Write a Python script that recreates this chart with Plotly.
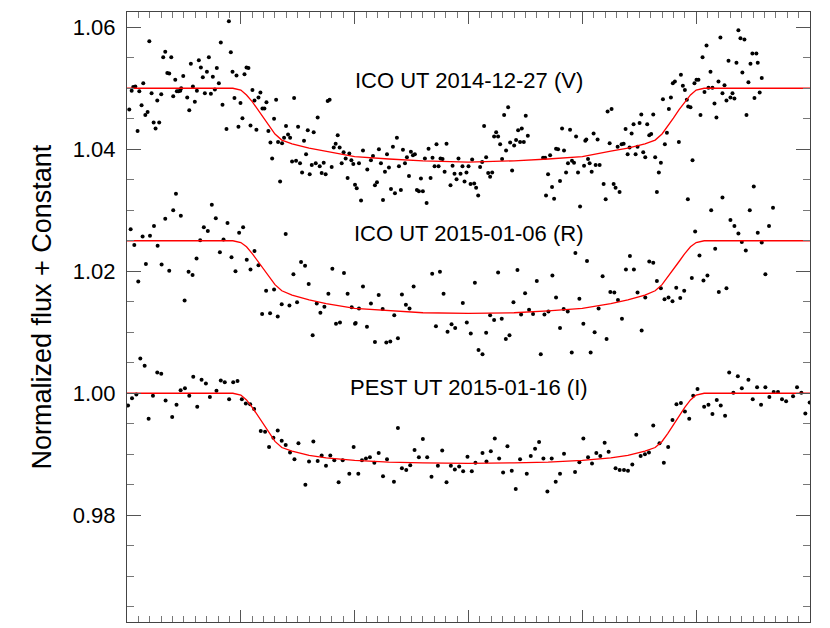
import plotly.graph_objects as go

# hours from mid-transit / normalized flux (+ offset) for the three nights
v_time = [-2.980,-2.959,-2.945,-2.927,-2.907,-2.892,-2.872,-2.857,-2.839,-2.819,
          -2.804,-2.784,-2.766,-2.749,-2.734,-2.717,-2.699,-2.682,-2.664,-2.646,
          -2.629,-2.611,-2.594,-2.576,-2.562,-2.547,-2.532,-2.524,-2.506,-2.471,
          -2.453,-2.439,-2.421,-2.404,-2.386,-2.369,-2.351,-2.334,-2.316,-2.298,
          -2.281,-2.263,-2.246,-2.228,-2.211,-2.193,-2.176,-2.161,-2.126,-2.105,
          -2.088,-2.073,-2.056,-2.038,-2.021,-2.003,-1.986,-1.968,-1.950,-1.933,
          -1.915,-1.898,-1.880,-1.863,-1.845,-1.828,-1.810,-1.793,-1.775,-1.758,
          -1.740,-1.725,-1.708,-1.690,-1.673,-1.655,-1.638,-1.620,-1.603,-1.585,
          -1.567,-1.550,-1.532,-1.515,-1.497,-1.480,-1.462,-1.445,-1.427,-1.412,
          -1.395,-1.377,-1.360,-1.342,-1.325,-1.307,-1.290,-1.272,-1.255,-1.237,
          -1.220,-1.202,-1.184,-1.167,-1.149,-1.132,-1.114,-1.097,-1.079,-1.062,
          -1.047,-1.029,-1.012,-0.997,
          -0.982,-0.962,-0.944,-0.927,-0.889,-0.857,-0.839,-0.822,-0.804,-0.787,
          -0.769,-0.751,-0.734,-0.716,-0.699,-0.681,-0.664,-0.646,-0.629,-0.611,
          -0.594,-0.576,-0.558,-0.541,-0.523,-0.506,-0.488,-0.471,-0.453,-0.436,
          -0.418,-0.401,-0.383,-0.368,-0.351,-0.333,-0.316,-0.298,-0.281,-0.263,
          -0.246,-0.228,-0.210,-0.193,-0.158,-0.140,-0.123,-0.105,-0.088,-0.070,
          -0.053,-0.035,-0.018,0.000,0.018,0.032,0.050,0.067,0.085,0.102,
          0.120,0.137,0.155,0.173,0.190,0.208,0.225,0.243,0.260,0.278,
          0.295,0.313,0.330,0.348,0.366,0.383,0.401,0.418,0.436,0.453,
          0.468,0.486,0.503,0.521,0.655,0.673,0.681,0.699,0.717,0.734,
          0.752,0.769,0.787,0.804,0.822,0.839,0.857,0.874,0.892,0.909,
          0.927,0.945,0.962,0.980,1.015,1.026,
          1.035,1.050,1.064,1.082,1.099,1.117,1.134,1.152,1.187,1.205,
          1.222,1.240,1.257,1.275,1.292,1.310,1.327,1.345,1.363,1.380,
          1.398,1.415,1.433,1.450,1.468,1.485,1.503,1.518,1.535,1.553,
          1.570,1.588,1.605,1.623,1.640,1.655,1.672,1.690,1.708,1.725,
          1.743,1.760,1.778,1.795,1.813,1.848,1.866,1.883,1.901,1.918,
          1.930,1.950,1.968,1.985,2.003,2.020,2.038,2.056,2.073,2.091,
          2.108,2.126,2.143,2.161,2.178,2.196,2.213,2.231,2.249,2.266,
          2.284,2.301,2.319,2.336,2.354,2.371,2.389,2.406,2.424,2.442,
          2.459,2.477,2.494,2.512,2.529,2.541,2.558,2.576]
v_flux = [1.0465,1.0496,1.0502,1.0503,1.0430,1.0495,1.0472,1.0508,1.0456,1.0461,
          1.0577,1.0492,1.0444,1.0434,1.0480,1.0444,1.0490,1.0551,1.0560,1.0525,
          1.0524,1.0551,1.0487,1.0514,1.0495,1.0495,1.0496,1.0500,1.0520,1.0485,
          1.0464,1.0540,1.0503,1.0478,1.0496,1.0546,1.0534,1.0518,1.0492,1.0527,
          1.0551,1.0491,1.0519,1.0498,1.0533,1.0508,1.0575,1.0473,1.0433,1.0610,
          1.0559,1.0527,1.0484,1.0521,1.0437,1.0476,1.0451,1.0523,1.0534,1.0533,
          1.0439,1.0497,1.0480,1.0432,1.0485,1.0493,1.0467,1.0467,1.0477,1.0430,
          1.0411,1.0385,1.0450,1.0481,1.0412,1.0347,1.0410,1.0419,1.0438,1.0424,
          1.0419,1.0380,1.0484,1.0381,1.0437,1.0377,1.0362,1.0414,1.0392,1.0431,
          1.0359,1.0374,1.0428,1.0377,1.0452,1.0372,1.0361,1.0378,1.0359,1.0479,
          1.0481,1.0371,1.0403,1.0409,1.0423,1.0403,1.0377,1.0395,1.0385,1.0353,
          1.0393,1.0382,1.0376,1.0342,
          1.0336,1.0377,1.0316,1.0398,1.0367,1.0382,1.0389,1.0341,1.0346,1.0400,
          1.0377,1.0317,1.0363,1.0392,1.0370,1.0335,1.0404,1.0328,1.0419,1.0372,
          1.0333,1.0399,1.0377,1.0387,1.0356,1.0396,1.0390,1.0392,1.0333,1.0331,
          1.0352,1.0331,1.0385,1.0312,1.0401,1.0353,1.0386,1.0372,1.0408,1.0372,
          1.0385,1.0384,1.0363,1.0409,1.0341,1.0373,1.0360,1.0351,1.0385,1.0360,
          1.0372,1.0347,1.0362,1.0372,1.0343,1.0383,1.0344,1.0337,1.0324,1.0371,
          1.0379,1.0438,1.0387,1.0361,1.0355,1.0362,1.0421,1.0428,1.0421,1.0408,
          1.0384,1.0456,1.0398,1.0469,1.0411,1.0365,1.0406,1.0415,1.0431,1.0412,
          1.0434,1.0412,1.0455,1.0422,1.0386,1.0386,1.0324,1.0359,1.0390,1.0338,
          1.0319,1.0401,1.0400,1.0348,1.0434,1.0398,1.0362,1.0377,1.0432,1.0381,
          1.0378,1.0421,1.0362,1.0306,1.0373,1.0414,
          1.0416,1.0384,1.0377,1.0363,1.0426,1.0374,1.0416,1.0374,1.0343,1.0318,
          1.0462,1.0410,1.0466,1.0343,1.0337,1.0404,1.0330,1.0408,1.0409,1.0433,
          1.0392,1.0403,1.0426,1.0441,1.0392,1.0404,1.0443,1.0457,1.0395,1.0387,
          1.0441,1.0423,1.0425,1.0457,1.0387,1.0330,1.0362,1.0378,1.0482,1.0408,
          1.0427,1.0466,1.0485,1.0508,1.0511,1.0412,1.0522,1.0504,1.0497,1.0481,
          1.0470,1.0469,1.0382,1.0508,1.0514,1.0514,1.0456,1.0551,1.0494,1.0570,
          1.0501,1.0527,1.0501,1.0475,1.0452,1.0511,1.0583,1.0492,1.0505,1.0480,
          1.0545,1.0485,1.0492,1.0483,1.0542,1.0595,1.0582,1.0526,1.0580,1.0456,
          1.0510,1.0540,1.0557,1.0484,1.0557,1.0542,1.0493,1.0517]

r_time = [-2.968,-2.936,-2.901,-2.863,-2.834,-2.798,-2.763,-2.731,-2.696,-2.664,
          -2.629,-2.594,-2.570,-2.527,-2.494,-2.459,-2.424,-2.389,-2.357,-2.325,
          -2.290,-2.255,-2.220,-2.184,-2.152,-2.117,-2.082,-2.047,-2.015,-1.980,
          -1.948,-1.915,-1.880,-1.845,-1.813,-1.778,-1.743,-1.708,-1.676,-1.641,
          -1.606,-1.573,-1.538,-1.506,-1.471,-1.436,-1.404,-1.369,-1.333,-1.301,
          -1.266,-1.231,-1.196,-1.164,-1.129,-1.094,-1.062,-1.026,-0.997,
          -0.991,-0.962,-0.927,-0.892,-0.857,-0.822,-0.789,-0.754,-0.722,-0.687,
          -0.652,-0.620,-0.585,-0.550,-0.518,-0.482,-0.319,-0.286,-0.251,-0.219,
          -0.184,-0.149,-0.117,-0.050,-0.015,0.020,0.056,0.088,0.123,0.155,
          0.190,0.225,0.260,0.292,0.328,0.360,0.395,0.430,0.462,0.497,
          0.532,0.567,0.600,0.635,0.667,0.702,0.737,0.769,0.804,0.836,
          0.872,0.907,0.939,0.974,1.009,
          1.041,1.073,1.108,1.143,1.178,1.213,1.246,1.281,1.313,1.348,
          1.383,1.418,1.453,1.485,1.521,1.553,1.588,1.623,1.655,1.690,
          1.722,1.757,1.792,1.825,1.860,1.895,1.927,1.962,1.991,2.029,
          2.064,2.099,2.132,2.167,2.199,2.231,2.266,2.301,2.336,2.371,
          2.401,2.436,2.471,2.506,2.541,2.576,2.608,2.640,2.675]
r_flux = [1.0269,1.0243,1.0183,1.0257,1.0212,1.0258,1.0274,1.0242,1.0211,1.0286,
          1.0201,1.0300,1.0327,1.0291,1.0152,1.0199,1.0194,1.0221,1.0251,1.0272,
          1.0266,1.0309,1.0287,1.0231,1.0252,1.0279,1.0223,1.0200,1.0263,1.0272,
          1.0219,1.0203,1.0233,1.0210,1.0130,1.0168,1.0131,1.0170,1.0126,1.0146,
          1.0261,1.0144,1.0195,1.0149,1.0215,1.0209,1.0179,1.0095,1.0147,1.0132,
          1.0142,1.0163,1.0204,1.0114,1.0116,1.0197,1.0163,1.0141,1.0114,
          1.0115,1.0139,1.0175,1.0109,1.0147,1.0084,1.0161,1.0138,1.0083,1.0085,
          1.0128,1.0090,1.0162,1.0145,1.0139,1.0175,1.0196,1.0110,1.0199,1.0163,
          1.0101,1.0113,1.0107,1.0148,1.0116,1.0098,1.0181,1.0071,1.0064,1.0099,
          1.0128,1.0120,1.0198,1.0122,1.0089,1.0095,1.0149,1.0202,1.0129,1.0164,
          1.0137,1.0130,1.0184,1.0064,1.0129,1.0134,1.0193,1.0157,1.0107,1.0138,
          1.0134,1.0067,1.0230,1.0155,1.0114,
          1.0217,1.0067,1.0100,1.0139,1.0192,1.0089,1.0166,1.0165,1.0153,1.0122,
          1.0203,1.0225,1.0203,1.0165,1.0103,1.0157,1.0216,1.0214,1.0184,1.0172,
          1.0154,1.0157,1.0151,1.0173,1.0156,1.0168,1.0318,1.0189,1.0265,1.0226,
          1.0185,1.0193,1.0300,1.0237,1.0166,1.0321,1.0172,1.0284,1.0274,1.0262,
          1.0248,1.0234,1.0300,1.0339,1.0263,1.0247,1.0195,1.0274,1.0304]

i_time = [-2.991,-2.956,-2.918,-2.883,-2.845,-2.810,-2.772,-2.734,-2.699,-2.661,
          -2.603,-2.565,-2.529,-2.491,-2.453,-2.418,-2.383,-2.345,-2.307,-2.272,
          -2.214,-2.176,-2.141,-2.103,-2.067,-2.029,-1.991,-1.956,-1.918,-1.883,
          -1.825,-1.787,-1.752,-1.714,-1.676,-1.641,-1.606,-1.568,-1.529,-1.494,
          -1.433,-1.401,-1.363,-1.325,-1.290,-1.252,-1.214,-1.179,-1.141,-1.105,
          -1.047,-1.009,
          -0.968,-0.936,-0.901,-0.866,-0.827,-0.789,-0.751,-0.716,-0.655,-0.620,
          -0.585,-0.547,-0.512,-0.474,-0.436,-0.401,-0.363,-0.325,-0.269,-0.231,
          -0.193,-0.155,-0.120,-0.082,-0.047,-0.009,0.029,0.061,0.123,0.158,
          0.196,0.231,0.269,0.304,0.342,0.380,0.415,0.453,0.512,0.547,
          0.585,0.620,0.658,0.693,0.731,0.766,0.804,0.839,0.936,0.974,
          1.009,
          1.050,1.085,1.123,1.158,1.196,1.231,1.292,1.328,1.366,1.401,
          1.439,1.474,1.512,1.550,1.585,1.623,1.678,1.716,1.754,1.792,
          1.827,1.866,1.901,1.939,1.974,2.012,2.070,2.108,2.143,2.181,
          2.216,2.254,2.290,2.327,2.366,2.401,2.459,2.497,2.535,2.570,
          2.608,2.643,2.681,2.719,2.754,2.790,2.851,2.886,2.924,2.959,
          2.997]
i_flux = [0.9980,0.9992,0.9998,1.0057,1.0045,0.9958,0.9996,1.0034,1.0032,0.9988,
          0.9961,0.9981,1.0005,1.0008,0.9996,1.0027,0.9978,1.0022,1.0016,0.9994,
          1.0004,1.0021,1.0018,0.9990,1.0018,1.0020,0.9990,0.9983,0.9982,0.9974,
          0.9938,0.9937,0.9912,0.9927,0.9939,0.9922,0.9915,0.9903,0.9892,0.9918,
          0.9850,0.9888,0.9921,0.9889,0.9898,0.9881,0.9898,0.9890,0.9854,0.9890,
          0.9868,0.9912,
          0.9868,0.9890,0.9893,0.9895,0.9886,0.9902,0.9864,0.9892,0.9855,0.9943,
          0.9877,0.9874,0.9882,0.9907,0.9895,0.9925,0.9895,0.9863,0.9881,0.9906,
          0.9854,0.9881,0.9875,0.9880,0.9872,0.9896,0.9872,0.9886,0.9902,0.9888,
          0.9905,0.9926,0.9893,0.9870,0.9913,0.9873,0.9843,0.9892,0.9868,0.9897,
          0.9909,0.9920,0.9893,0.9839,0.9893,0.9855,0.9868,0.9901,0.9871,0.9887,
          0.9926,
          0.9895,0.9885,0.9902,0.9897,0.9919,0.9904,0.9877,0.9874,0.9874,0.9873,
          0.9883,0.9932,0.9897,0.9900,0.9903,0.9947,0.9918,0.9886,0.9912,0.9956,
          0.9982,0.9984,0.9970,0.9958,0.9996,1.0007,0.9978,0.9981,0.9966,0.9989,
          0.9980,0.9963,1.0034,1.0001,1.0028,1.0008,1.0022,0.9990,1.0010,0.9981,
          1.0010,0.9994,1.0002,1.0002,0.9990,0.9987,0.9995,1.0010,1.0001,0.9967,
          0.9985]

# transit model curves
model_time = [-3.0,-2.07,-2.0,-1.95,-1.9,-1.85,-1.8,-1.75,-1.7,-1.64,-1.55,-1.4,-1.25,-1.0,-0.7,-0.4,0.0,
              0.4,0.7,1.0,1.25,1.4,1.55,1.64,1.7,1.75,1.8,1.85,1.9,1.95,2.0,2.07,3.0]
v_model = [1.0500,1.0500,1.0497,1.0489,1.0478,1.0465,1.0451,1.0437,1.0425,1.0415,1.0409,1.0402,1.0397,1.0388,1.0384,1.0381,1.0379,
           1.0381,1.0384,1.0388,1.0397,1.0402,1.0409,1.0415,1.0425,1.0437,1.0451,1.0465,1.0478,1.0489,1.0497,1.0500,1.0500]
r_model = [1.0250,1.0250,1.0247,1.0240,1.0229,1.0216,1.0203,1.0190,1.0178,1.0168,1.0161,1.0153,1.0147,1.0139,1.0135,1.0132,1.0131,
           1.0132,1.0135,1.0139,1.0147,1.0153,1.0161,1.0168,1.0178,1.0190,1.0203,1.0216,1.0229,1.0240,1.0247,1.0250,1.0250]
i_model = [1.0000,1.0000,0.9997,0.9989,0.9977,0.9963,0.9949,0.9934,0.9921,0.9911,0.9905,0.9898,0.9894,0.9890,0.9887,0.9886,0.9885,
           0.9886,0.9887,0.9890,0.9894,0.9898,0.9905,0.9911,0.9921,0.9934,0.9949,0.9963,0.9977,0.9989,0.9997,1.0000,1.0000]

labels = ["ICO UT 2014-12-27 (V)", "ICO UT 2015-01-06 (R)", "PEST UT 2015-01-16 (I)"]
label_y = [1.0513, 1.0262, 1.0010]

fig = go.Figure()
for t, f in [(v_time, v_flux), (r_time, r_flux), (i_time, i_flux)]:
    fig.add_trace(go.Scatter(x=t, y=f, mode="markers",
                             marker=dict(size=4, color="black"), showlegend=False))
for m in [v_model, r_model, i_model]:
    fig.add_trace(go.Scatter(x=model_time, y=m, mode="lines",
                             line=dict(color="red", width=1.3), showlegend=False))

for txt, yy in zip(labels, label_y):
    fig.add_annotation(x=0, y=yy, text=txt, showarrow=False,
                       font=dict(size=22, color="black"))

fig.add_annotation(xref="paper", yref="paper", x=-0.124, y=0.516,
                   xanchor="center", yanchor="middle",
                   text="Normalized flux + Constant", textangle=-90,
                   showarrow=False, font=dict(size=27, color="black"))

fig.update_xaxes(range=[-3, 3], dtick=1, tick0=0, ticks="inside", ticklen=12,
                 tickcolor="#555", showticklabels=False,
                 minor=dict(dtick=0.1, ticks="inside", ticklen=6, tickcolor="#777"),
                 showline=True, linecolor="#444", mirror="ticks",
                 showgrid=False, zeroline=False)
fig.update_yaxes(range=[0.9625, 1.0625], dtick=0.02, tick0=0.98, tickformat=".2f",
                 ticks="inside", ticklen=14, tickcolor="#555",
                 minor=dict(dtick=0.005, ticks="inside", ticklen=7, tickcolor="#777"),
                 showline=True, linecolor="#444", mirror="ticks",
                 showgrid=False, zeroline=False, ticklabelstandoff=6,
                 tickfont=dict(size=22, color="black"))

# page body adds an 8px offset, so the figure is a bit smaller than the window
fig.update_layout(width=822, height=620,
                  margin=dict(l=119, r=20, t=4, b=6),
                  plot_bgcolor="white", paper_bgcolor="white",
                  font=dict(family="Liberation Sans, Arial, sans-serif"))

fig.write_html("out.html")
